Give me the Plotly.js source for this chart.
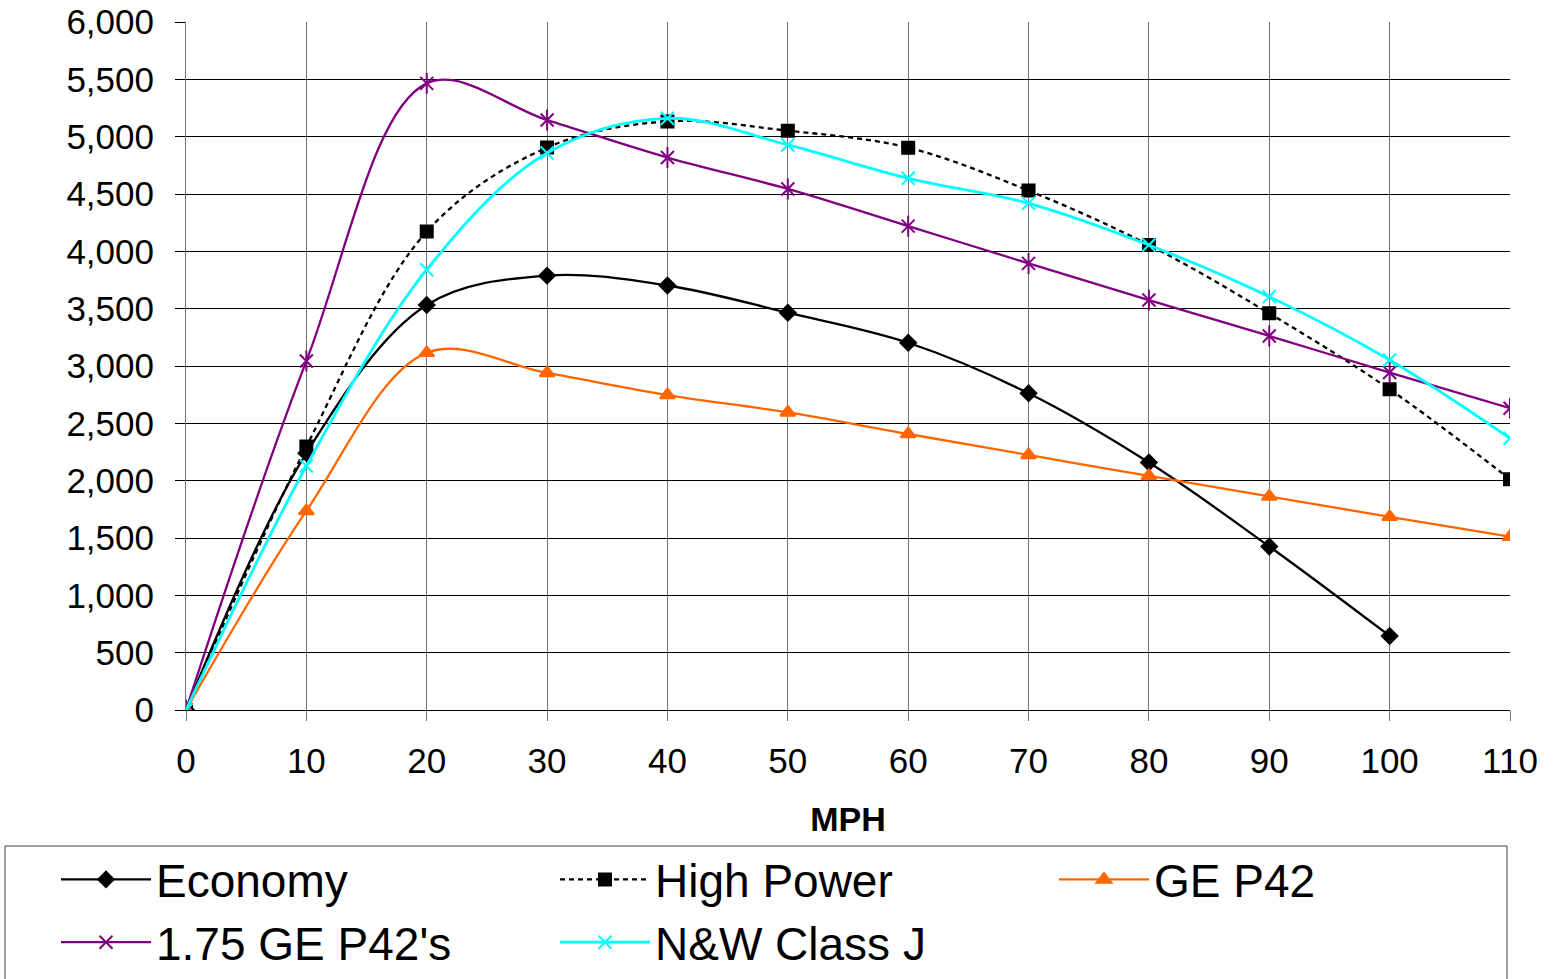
<!DOCTYPE html>
<html>
<head>
<meta charset="utf-8">
<script src="https://cdn.plot.ly/plotly-3.0.1.min.js"></script>
<style>
  html, body { margin: 0; padding: 0; background: #ffffff; }
  #chart { width: 1558px; height: 979px; }
</style>
</head>
<body>
<div id="chart"></div>
<script>
// Speed in MPH
const mph = [0, 10, 20, 30, 40, 50, 60, 70, 80, 90, 100, 110];

// Tractive effort per speed, one array per locomotive configuration
const economy    = [0, 2240, 3532, 3788, 3702, 3465, 3203, 2762, 2158, 1426, 646];
const highPower  = [0, 2297, 4172, 4905, 5133, 5052, 4904, 4530, 4055, 3459, 2797, 2012];
const geP42      = [0, 1736, 3115, 2939, 2747, 2595, 2407, 2224, 2041, 1862, 1685, 1511];
const geP42x175  = [0, 3043, 5465, 5145, 4818, 4544, 4220, 3895, 3575, 3262, 2943, 2632];
const nwClassJ   = [0, 2128, 3840, 4857, 5160, 4928, 4637, 4419, 4055, 3605, 3053, 2370];

const seriesNames = ["Economy", "High Power", "GE P42", "1.75 GE P42's", "N&W Class J"];
const yTickVals = [0, 500, 1000, 1500, 2000, 2500, 3000, 3500, 4000, 4500, 5000, 5500, 6000];
const xTickVals = mph;

const FONT = "Liberation Sans, Arial, sans-serif";

// plot area in pixels, used to place the legend frame in paper units
const PLOT = { left: 186, top: 22, width: 1324, height: 688 };
const px2x = px => (px - PLOT.left) / PLOT.width;
const px2y = py => (PLOT.top + PLOT.height - py) / PLOT.height;

function curve(name, ys, color, symbol, msize, dash, lw) {
  return {
    type: "scatter",
    mode: "lines+markers",
    name: name,
    x: mph.slice(0, ys.length),
    y: ys,
    line: { color: color, width: lw, shape: "spline", smoothing: 1, dash: dash },
    marker: { symbol: symbol, size: msize, color: color, line: { color: color, width: 2 } },
    hoverinfo: "x+y+name"
  };
}

const traces = [
  curve(seriesNames[0], economy,   "#000000", "diamond",      12, "solid",   2.3),
  curve(seriesNames[1], highPower, "#000000", "square",       12, "5px,4px", 2.3),
  curve(seriesNames[2], geP42,     "#FF6600", "triangle-up",  13, "solid",   2.3),
  curve(seriesNames[3], geP42x175, "#800080", "x-thin-open",  13, "solid",   2.3),
  // vertical stroke completing the star marker of the 1.75 GE P42's series
  {
    type: "scatter", mode: "markers", x: mph.slice(0, geP42x175.length), y: geP42x175,
    showlegend: false, hoverinfo: "skip",
    marker: { symbol: "line-ns-open", size: 15, color: "#800080", line: { color: "#800080", width: 2 } }
  },
  curve(seriesNames[4], nwClassJ,  "#00FFFF", "x-thin-open",  13, "solid",   2.8)
];

const layout = {
  width: 1558,
  height: 979,
  margin: { l: 186, r: 48, t: 22, b: 269, pad: 0, autoexpand: false },
  paper_bgcolor: "#ffffff",
  plot_bgcolor: "#ffffff",
  font: { family: FONT, color: "#000000", size: 35 },
  showlegend: true,
  xaxis: {
    range: [0, 110],
    tickvals: xTickVals,
    ticktext: xTickVals.map(String),
    showgrid: true,
    gridcolor: "#707070",
    gridwidth: 1,
    zeroline: false,
    showline: true,
    linecolor: "#000000",
    linewidth: 1,
    ticks: "outside",
    ticklen: 10,
    tickcolor: "#707070",
    tickfont: { family: FONT, size: 35, color: "#000000" },
    ticklabelstandoff: 10,
    title: { text: "MPH", font: { family: FONT, size: 34, color: "#000000", weight: "bold" }, standoff: 28 },
    fixedrange: true
  },
  yaxis: {
    range: [0, 6000],
    tickvals: yTickVals,
    ticktext: yTickVals.map(v => v.toLocaleString("en-US")),
    showgrid: true,
    gridcolor: "#000000",
    gridwidth: 1,
    zeroline: false,
    showline: true,
    linecolor: "#707070",
    linewidth: 1,
    ticks: "outside",
    ticklen: 10,
    tickcolor: "#000000",
    tickfont: { family: FONT, size: 35, color: "#000000" },
    ticklabelstandoff: 14,
    fixedrange: true
  },
  legend: {
    orientation: "h",
    x: px2x(56),
    xanchor: "left",
    y: px2y(843),
    yanchor: "top",
    bgcolor: "rgba(0,0,0,0)",
    borderwidth: 0,
    font: { family: FONT, size: 46, color: "#000000" },
    itemwidth: 90,
    entrywidth: 394,
    entrywidthmode: "pixels",
    traceorder: "normal",
    itemclick: false,
    itemdoubleclick: false
  },
  shapes: [
    // legend frame, running past the bottom edge of the page
    {
      type: "rect", xref: "paper", yref: "paper", layer: "below",
      x0: px2x(5), x1: px2x(1507), y0: px2y(846), y1: px2y(1010),
      line: { color: "#404040", width: 1 }, fillcolor: "rgba(0,0,0,0)"
    }
  ]
};

Plotly.newPlot("chart", traces, layout, { displayModeBar: false, staticPlot: true });
</script>
</body>
</html>
